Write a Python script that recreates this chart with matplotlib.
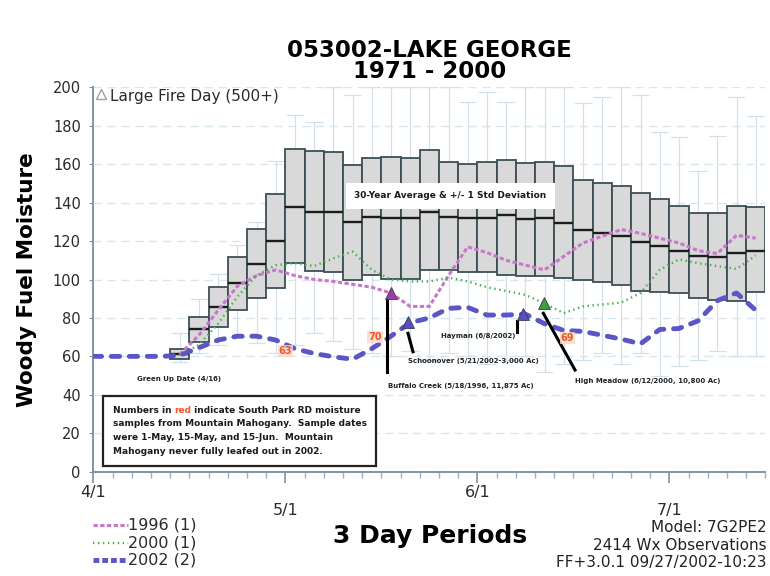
import numpy as np
import matplotlib.pyplot as plt
from matplotlib.lines import Line2D
from matplotlib.offsetbox import TextArea, HPacker, VPacker, AnchoredOffsetbox

plt.rcParams['font.family'] = ['DejaVu Sans']

# x axis = 3 day periods counted from 4/1, boxes are 30 yr mean +/- 1 std
box_period = list(range(4, 35))
box_top = [64.0, 80.6, 95.9, 111.5, 126.1, 144.6, 167.8, 166.9, 166.1, 159.5, 163.1,
           163.5, 163.1, 167.3, 161.4, 160.0, 161.2, 162.1, 160.4, 161.4, 159.0, 151.7,
           150.3, 148.6, 144.8, 141.8, 138.2, 134.4, 134.4, 138.2, 137.8]
box_mean = [61.4, 74.0, 85.5, 98.0, 108.0, 120.1, 137.8, 135.2, 135.0, 129.7, 132.6,
            132.2, 132.2, 135.2, 132.6, 132.1, 132.1, 133.5, 131.3, 131.8, 129.6, 125.7,
            124.4, 122.8, 119.4, 117.5, 115.0, 112.4, 111.5, 113.9, 115.0]
box_bot = [58.8, 67.6, 75.2, 84.2, 90.3, 95.5, 108.4, 104.5, 103.7, 99.7, 102.3,
           100.2, 100.2, 104.9, 104.9, 103.7, 103.7, 102.3, 101.9, 101.9, 100.6, 99.7,
           98.8, 97.1, 94.1, 93.6, 92.8, 90.6, 89.5, 88.8, 93.4]
whisk_hi = [72, 90, 103, 118, 130, 161.5, 185.4, 182, 200, 195.9, 200,
            200, 200, 200, 200, 192.4, 197.4, 192.4, 200, 200, 200, 191.8,
            195, 200, 196, 177, 174, 156.4, 174.8, 195, 185]
whisk_lo = [57, 62, 66, 70, 67, 62, 66, 72, 68, 64, 62,
            60, 63, 58, 62, 60, 56, 58, 60, 52, 56, 58,
            62, 56, 62, 50, 55, 58, 63, 60, 60]

per_2002 = list(range(0, 35))
fm_2002 = [60, 60, 60, 60, 60.5, 64.5, 68.5, 70.5, 70.5, 68.5, 64, 61.5, 59.8, 58.5,
           64, 70.5, 77.5, 80, 85, 85.5, 81.5, 81.5, 82, 77, 73.5, 73, 71, 69, 66.5,
           74, 74.5, 78.5, 89, 93, 84]
per_1996 = list(range(4, 35))
fm_1996 = [61, 71, 84, 96.5, 102, 105, 102, 100, 99, 97.5, 96, 93, 86, 86, 102, 117,
           114, 110, 107.5, 105, 112, 119, 122.5, 126, 124, 121.5, 119, 115, 113.5, 123, 121.5]
per_2000 = list(range(4, 35))
fm_2000 = [60.5, 66, 77, 91, 102, 107.5, 108.5, 107, 111, 114.5, 105, 100, 99, 99, 101,
           99, 96, 94, 92, 87.5, 82.5, 86, 87, 88, 93, 105, 110.5, 108.5, 107, 105.5, 112.5]

# fires: (period, moisture, colour)
fires = [(15.5, 93, '#9a3fa8'), (16.4, 78, '#5550c0'), (22.4, 82, '#5550c0'), (23.45, 87.6, '#3aa040')]
# red numbers: south park samples (period, value)
samples = [(10.0, 63, '63'), (14.67, 70, '70'), (24.7, 69.5, '69')]

fig = plt.figure(figsize=(7.7, 5.76), dpi=100)
ax = fig.add_axes([0.1212, 0.1811, 0.8727, 0.6673])

ax.set_xlim(0, 35)
ax.set_ylim(0, 200)
ax.set_yticks(np.arange(0, 201, 20))
ax.tick_params(axis='y', labelsize=10.5, length=3, pad=6, colors='#7e94a4', labelcolor='#2a2a2a')
ax.set_xticks([0, 10, 20, 30])
ax.set_xticklabels([])
ax.set_xticks(range(0, 36), minor=True)
ax.tick_params(axis='x', which='major', length=8, color='#7e94a4', width=1.2)
ax.tick_params(axis='x', which='minor', length=4, color='#8fb4cc', width=1)
for s in ['top', 'right']:
    ax.spines[s].set_visible(False)
for s in ['left', 'bottom']:
    ax.spines[s].set_color('#7e94a4')
    ax.spines[s].set_linewidth(1.4)
ax.yaxis.grid(True, ls=(0, (6, 4)), color='#d8e6ee', lw=1)
ax.set_axisbelow(True)

wc = '#d2e0ea'
bx = np.array(box_period) + 0.5
ax.vlines(bx, box_top, whisk_hi, color=wc, lw=0.9, zorder=1)
ax.vlines(bx, whisk_lo, box_bot, color=wc, lw=0.9, zorder=1)
ax.hlines(whisk_hi, bx - 0.45, bx + 0.45, color=wc, lw=0.9, zorder=1)
ax.hlines(whisk_lo, bx - 0.45, bx + 0.45, color=wc, lw=0.9, zorder=1)

ax.bar(box_period, np.array(box_top) - np.array(box_bot), bottom=box_bot, width=1,
       align='edge', color='#d9d9d9', edgecolor='#3c4e56', lw=1.3, zorder=2)
ax.hlines(box_mean, np.array(box_period), np.array(box_period) + 1, color='#1c1c1c', lw=1.7, zorder=3)

ax.plot(np.array(per_1996) + 0.5, fm_1996, color='#c878c8', lw=2.2, dashes=(1.4, 0.8), zorder=4)
ax.plot(np.array(per_2000) + 0.5, fm_2000, color='#44b04c', lw=1.7, dashes=(0.6, 1.5), zorder=4)
x02 = np.r_[0, np.array(per_2002) + 0.5]
ax.plot(x02, np.r_[fm_2002[0], fm_2002], color='#5b55c6', lw=3.5, dashes=(1.7, 2.0),
        dash_capstyle='round', zorder=5)

for px, v, c in fires:
    ax.plot(px, v, marker='^', ms=9, color=c, mec='#3a3a5a', mew=0.6, zorder=7)

# leader lines to fire labels
ax.plot([15.29, 15.29], [89.3, 52], color='black', lw=2.2, zorder=6)
ax.plot([16.39, 16.65], [72, 62.4], color='black', lw=2.2, zorder=6)
ax.plot([22.05, 22.05], [78.5, 72.8], color='black', lw=2.2, zorder=6)
ax.plot([23.44, 25.09], [82.4, 52.9], color='black', lw=2.2, zorder=6)

small = dict(fontsize=5, fontweight='bold', color='#222222', va='center', zorder=8)
ax.text(15.35, 44.4, 'Buffalo Creek (5/18/1996, 11,875 Ac)', ha='left', **small)
ax.text(16.4, 57.7, 'Schoonover (5/21/2002-3,000 Ac)', ha='left', **small)
ax.text(21.96, 70.6, 'Hayman (6/8/2002)', ha='right', **small)
ax.text(25.1, 47.2, 'High Meadow (6/12/2000, 10,800 Ac)', ha='left', **small)
ax.text(2.28, 48.2, 'Green Up Date (4/16)', ha='left', **small)

for px, v, s in samples:
    ax.text(px, v, s, ha='center', va='center', fontsize=7, fontweight='bold', color='#f0582a',
            bbox=dict(boxstyle='square,pad=0.1', fc='#fbd8c8', ec='none', alpha=0.8), zorder=6)

ax.text(13.6, 143.5, '30-Year Average & +/- 1 Std Deviation', fontsize=6.5, fontweight='bold',
        color='#1a1a1a', va='center', ha='left', zorder=9,
        bbox=dict(boxstyle='square,pad=0.9', fc='white', ec='none'))

ax.plot(0.4, 196.5, marker='^', ms=7, mfc='none', mec='#a0a0a0', mew=1, clip_on=False, zorder=8)
ax.text(0.85, 195.2, 'Large Fire Day (500+)', fontsize=11, color='#2a2a2a', va='center', ha='left')

# note box with the word "red" in red
tp = dict(fontsize=6.5, fontweight='bold', color='#1a1a1a')
line1 = HPacker(children=[TextArea('Numbers in ', textprops=tp),
                          TextArea('red', textprops=dict(tp, color='#f0582a')),
                          TextArea(' indicate South Park RD moisture', textprops=tp)],
                sep=0, pad=0, align='baseline')
note = VPacker(children=[line1,
                         TextArea('samples from Mountain Mahogany.  Sample dates', textprops=tp),
                         TextArea('were 1-May, 15-May, and 15-Jun.  Mountain', textprops=tp),
                         TextArea('Mahogany never fully leafed out in 2002.', textprops=tp)],
               sep=3.5, pad=0, align='left')
ab = AnchoredOffsetbox(loc='lower left', child=note, pad=0.7, borderpad=0, frameon=True,
                       bbox_to_anchor=(0.5, 3), bbox_transform=ax.transData)
ab.patch.set_edgecolor('#222222')
ab.patch.set_linewidth(1.6)
ab.patch.set_boxstyle('square', pad=0)
ab.set_zorder(9)
ax.add_artist(ab)

# staggered date labels
xt = ax.get_xaxis_transform()
for px, lab, y in [(0, '4/1', -0.055), (10, '5/1', -0.1), (20, '6/1', -0.055), (30, '7/1', -0.1)]:
    ax.text(px, y, lab, transform=xt, ha='center', va='center', fontsize=11.5, color='#2a2a2a')

fig.text(0.558, 0.9115, '053002-LAKE GEORGE', ha='center', va='center', fontsize=16.5, fontweight='bold')
fig.text(0.558, 0.875, '1971 - 2000', ha='center', va='center', fontsize=16.5, fontweight='bold')
fig.text(0.035, 0.515, 'Woody Fuel Moisture', rotation=90, ha='center', va='center',
         fontsize=15.5, fontweight='bold')
fig.text(0.558, 0.069, '3 Day Periods', ha='center', va='center', fontsize=18, fontweight='bold')

# legend
leg = [('1996 (1)', '#c878c8', 2.2, (1.4, 0.8)), ('2000 (1)', '#44b04c', 1.7, (0.6, 1.5)),
       ('2002 (2)', '#5b55c6', 3.5, (1.2, 0.6))]
for i, (lab, c, lw, d) in enumerate(leg):
    yy = 1 - (525 + 17.5 * i) / 576
    fig.add_artist(Line2D([93 / 770, 128 / 770], [yy, yy], color=c, lw=lw, dashes=d,
                          transform=fig.transFigure))
    fig.text(128 / 770, yy, lab, va='center', ha='left', fontsize=11.5, color='#2a2a2a')

for i, s in enumerate(['Model: 7G2PE2', '2414 Wx Observations', 'FF+3.0.1 09/27/2002-10:23']):
    fig.text(0.996, 1 - (528 + 17 * i) / 576, s, ha='right', va='center', fontsize=11, color='#222222')

fig.savefig('out.png', dpi=100)
